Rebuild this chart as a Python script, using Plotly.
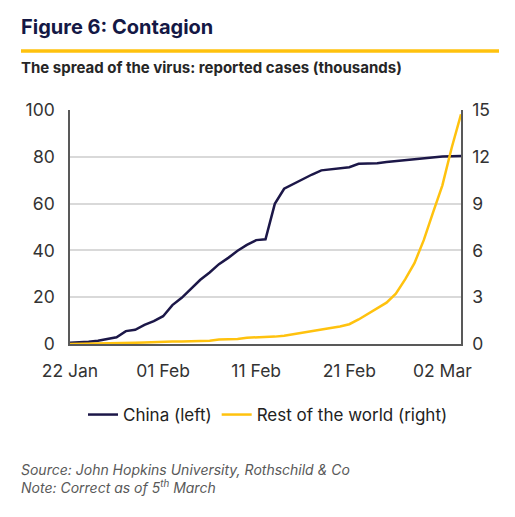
import pandas as pd
import plotly.graph_objects as go

dates = pd.date_range("2020-01-22", "2020-03-04", freq="D")
# reported cases, thousands
china = [0.55, 0.64, 0.92, 1.41, 2.08, 2.88, 5.51, 6.09, 8.14, 9.80,
         11.89, 16.63, 19.72, 23.71, 27.44, 30.59, 34.11, 36.81, 39.83, 42.35,
         44.39, 44.76, 59.90, 66.36, 68.41, 70.51, 72.43, 74.21, 74.62, 75.08,
         75.55, 77.00, 77.02, 77.24, 77.75, 78.17, 78.60, 78.93, 79.36, 79.93,
         80.14, 80.26, 80.39]
rest_of_world = [0.007, 0.011, 0.021, 0.028, 0.043, 0.050, 0.069, 0.079, 0.093, 0.125,
                 0.147, 0.157, 0.165, 0.185, 0.195, 0.207, 0.281, 0.306, 0.321, 0.408,
                 0.416, 0.462, 0.473, 0.527, 0.617, 0.711, 0.824, 0.925, 1.020, 1.120,
                 1.269, 1.571, 1.936, 2.320, 2.652, 3.222, 4.146, 5.184, 6.655, 8.437,
                 10.17, 12.58, 14.73]
tick_dates = ["2020-01-22", "2020-02-01", "2020-02-11", "2020-02-21", "2020-03-02"]

navy = "#1c1748"
gold = "#ffc20e"
font = "Inter, Arial, sans-serif"

fig = go.Figure()
fig.add_trace(go.Scatter(x=dates, y=china, name="China (left)", mode="lines",
                         line=dict(color=navy, width=2.5)))
fig.add_trace(go.Scatter(x=dates, y=rest_of_world, name="Rest of the world (right)", mode="lines",
                         line=dict(color=gold, width=2.5), yaxis="y2"))

# plot area is 70..461 px across, 110..344 px down (page coords, 8px body margin)
px = lambda x: (x - 70) / 391
py = lambda y: (344 - y) / 234

fig.update_layout(
    width=507, height=509,
    margin=dict(l=62, r=54, t=102, b=173),
    paper_bgcolor="white", plot_bgcolor="white",
    font=dict(family=font, color="#333333", size=17),
    showlegend=True,
    legend=dict(orientation="h", x=px(268), xanchor="center", y=py(415), yanchor="middle",
                font=dict(size=17, color="#222222"), itemwidth=30, tracegroupgap=0),
    xaxis=dict(type="date", range=["2020-01-22", "2020-03-04"], tickvals=tick_dates,
               tickformat="%d %b", showgrid=False, showline=True, linecolor="#595959",
               linewidth=1.5, ticks="", ticklabelstandoff=10, tickfont=dict(size=17.5)),
    yaxis=dict(range=[0, 100], dtick=20, showgrid=True, gridcolor="#d9d9d9", gridwidth=1.5,
               showline=True, linecolor="#595959", linewidth=1.5, ticks="", zeroline=False,
               ticklabelstandoff=10, tickfont=dict(size=17.5)),
    yaxis2=dict(range=[0, 15], dtick=3, overlaying="y", side="right", showgrid=False,
                showline=True, linecolor="#595959", linewidth=1.5, ticks="", zeroline=False,
                ticklabelstandoff=6, tickfont=dict(size=17.5)),
)

fig.add_shape(type="line", xref="paper", yref="paper", x0=px(21), x1=px(499), y0=py(51), y1=py(51),
              line=dict(color=gold, width=3.5))

fig.add_annotation(text="<b>Figure 6: Contagion</b>", xref="paper", yref="paper",
                   x=px(19), y=py(27), xanchor="left", yanchor="middle", showarrow=False,
                   font=dict(size=20, color="#141845", family=font))
fig.add_annotation(text="<b>The spread of the virus: reported cases (thousands)</b>", xref="paper", yref="paper",
                   x=px(19), y=py(68), xanchor="left", yanchor="middle", showarrow=False,
                   font=dict(size=15, color="#262626", family=font))
fig.add_annotation(text="<i>Source: John Hopkins University, Rothschild & Co<br>Note: Correct as of 5<sup>th</sup> March</i>",
                   xref="paper", yref="paper", x=px(19), y=py(478), xanchor="left", yanchor="middle",
                   align="left", showarrow=False,
                   font=dict(size=14, color="#595959", family=font))

fig.write_html("out.html")
